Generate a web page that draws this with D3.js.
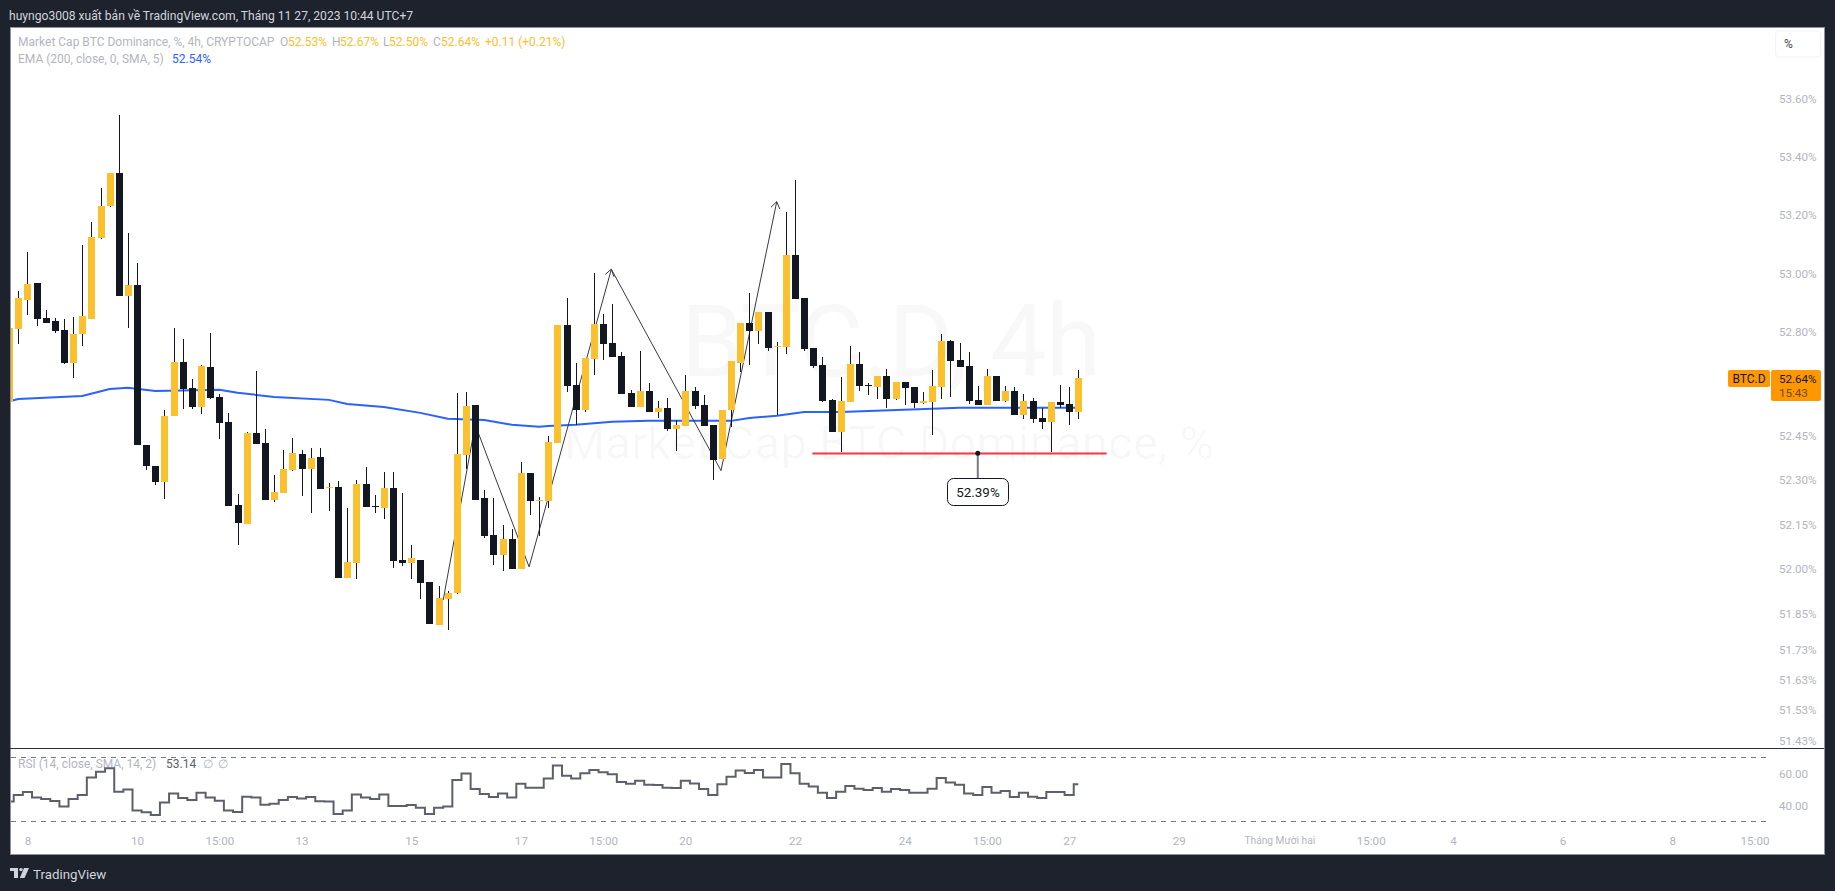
<!DOCTYPE html>
<html>
<head>
<meta charset="utf-8">
<title>BTC.D 4h</title>
<script src="https://cdn.jsdelivr.net/npm/d3@7"></script>
<style>
  html, body { margin: 0; padding: 0; background: #1e222d; overflow: hidden; }
  svg { display: block; }
  text { font-family: Roboto, sans-serif; }
</style>
</head>
<body>
<svg id="chart" width="1835" height="891"></svg>
<script>
// candles, 4h bars
const opens = [
  52.563,52.811,52.909,52.967,52.848,52.838,52.807,52.695,52.794,52.845,
  53.121,53.230,53.344,52.923,52.960,52.418,52.347,52.293,52.516,52.699,
  52.611,52.546,52.682,52.580,52.496,52.215,52.152,52.458,52.425,52.232,
  52.256,52.333,52.387,52.337,52.377,52.273,52.276,51.971,52.021,52.286,
  52.212,52.205,52.273,52.031,52.021,52.031,51.957,51.813,51.900,51.920,
  52.384,52.553,52.239,52.115,52.048,52.101,52.001,52.323,52.229,52.229,
  52.425,52.824,52.621,52.536,52.709,52.828,52.763,52.719,52.594,52.546,
  52.600,52.529,52.543,52.472,52.482,52.600,52.553,52.486,52.371,52.536,
  52.695,52.831,52.804,52.868,52.750,52.750,53.063,52.916,52.746,52.689,
  52.570,52.462,52.563,52.692,52.621,52.614,52.651,52.573,52.631,52.614,
  52.560,52.563,52.614,52.770,52.706,52.685,52.570,52.553,52.651,52.567,
  52.600,52.519,52.567,52.509,52.496,52.563,52.556,52.529
];
const highs = [
  52.814,52.940,53.073,52.967,52.875,52.848,52.845,52.851,53.097,53.176,
  53.292,53.344,53.543,53.138,53.036,52.418,52.347,52.536,52.814,52.777,
  52.641,52.689,52.797,52.590,52.526,52.252,52.462,52.668,52.472,52.317,
  52.401,52.442,52.401,52.408,52.408,52.289,52.296,52.205,52.300,52.344,
  52.249,52.327,52.327,52.256,52.081,52.031,51.957,51.943,51.927,52.594,
  52.597,52.553,52.266,52.239,52.148,52.135,52.360,52.323,52.242,52.448,
  52.824,52.916,52.695,52.712,53.001,52.862,52.895,52.733,52.604,52.736,
  52.628,52.567,52.577,52.502,52.655,52.614,52.587,52.486,52.536,52.702,
  52.831,52.933,52.868,52.868,52.767,53.210,53.320,52.916,52.746,52.716,
  52.573,52.648,52.753,52.733,52.628,52.651,52.675,52.631,52.631,52.614,
  52.597,52.672,52.794,52.773,52.763,52.733,52.617,52.675,52.651,52.617,
  52.614,52.590,52.577,52.543,52.563,52.621,52.614,52.672
];
const lows = [
  52.563,52.760,52.858,52.821,52.831,52.797,52.692,52.645,52.753,52.845,
  53.118,53.227,52.923,52.814,52.418,52.333,52.283,52.235,52.516,52.540,
  52.540,52.523,52.573,52.438,52.212,52.081,52.152,52.421,52.232,52.225,
  52.256,52.330,52.246,52.188,52.269,52.195,51.971,51.971,51.967,52.209,
  52.188,52.168,52.004,52.011,51.967,51.900,51.817,51.813,51.797,51.917,
  52.337,52.232,52.105,52.014,51.994,52.001,52.001,52.182,52.111,52.205,
  52.425,52.597,52.486,52.529,52.655,52.706,52.716,52.590,52.546,52.546,
  52.529,52.509,52.465,52.398,52.482,52.540,52.482,52.300,52.371,52.479,
  52.665,52.689,52.760,52.736,52.519,52.726,52.912,52.736,52.678,52.563,
  52.462,52.394,52.563,52.600,52.587,52.573,52.543,52.570,52.553,52.543,
  52.556,52.452,52.573,52.580,52.682,52.556,52.553,52.553,52.567,52.563,
  52.519,52.506,52.492,52.472,52.394,52.543,52.486,52.506
];
const closes = [
  52.814,52.916,52.964,52.845,52.831,52.804,52.695,52.794,52.855,53.124,
  53.230,53.344,52.923,52.960,52.418,52.347,52.293,52.516,52.699,52.607,
  52.546,52.685,52.577,52.492,52.212,52.155,52.458,52.421,52.232,52.259,
  52.337,52.391,52.337,52.374,52.269,52.276,51.971,52.024,52.286,52.209,
  52.209,52.273,52.028,52.021,52.038,51.954,51.817,51.903,51.920,52.387,
  52.550,52.232,52.111,52.048,52.101,52.001,52.323,52.229,52.232,52.428,
  52.824,52.617,52.536,52.712,52.828,52.760,52.716,52.590,52.546,52.600,
  52.529,52.543,52.472,52.486,52.600,52.550,52.482,52.367,52.536,52.702,
  52.831,52.804,52.868,52.746,52.753,53.063,52.912,52.743,52.685,52.567,
  52.462,52.567,52.692,52.617,52.617,52.651,52.573,52.631,52.611,52.560,
  52.567,52.617,52.770,52.702,52.682,52.567,52.553,52.651,52.567,52.600,
  52.519,52.567,52.506,52.496,52.563,52.553,52.529,52.645
];

// EMA 200, read at the bars where it bends
const emaBars = [0,1,8,11,13,16,23,25,29,35,37,41,45,48,52,55,58,59,62,66,70,78,79,81,84,87,91,101,104,117];
const emaVals = [52.565,52.573,52.583,52.607,52.611,52.600,52.604,52.594,52.580,52.570,52.556,52.546,52.526,52.506,52.502,52.486,52.479,52.482,52.486,52.496,52.499,52.499,52.499,52.509,52.516,52.529,52.529,52.540,52.543,52.543];

const rsiVals = [
  42.3,46.4,48.3,44.8,43.9,42.7,39.2,43.9,46.4,57.3,
  61.0,63.1,48.5,49.8,36.7,35.6,33.9,41.7,47.3,44.6,
  43.3,47.9,44.8,42.9,36.7,35.8,45.4,44.8,40.4,41.0,
  43.3,45.2,44.2,45.2,42.5,42.3,34.6,36.7,46.7,44.8,
  43.9,46.7,39.6,39.6,40.2,38.5,34.6,38.5,39.2,55.8,
  59.8,50.2,47.1,45.2,47.3,44.8,53.5,51.0,51.0,56.7,
  64.8,58.5,56.7,60.0,62.1,60.6,59.4,54.6,53.5,55.4,
  52.9,52.7,51.0,50.8,55.4,53.7,50.2,46.4,53.1,57.9,
  61.7,60.2,62.1,57.3,57.3,65.8,60.0,53.5,51.7,47.9,
  44.6,48.5,52.1,50.4,49.6,50.8,48.5,50.2,49.6,47.9,
  47.9,50.4,57.1,54.2,52.9,47.3,46.4,51.4,47.9,48.9,
  45.2,47.9,45.4,44.6,48.3,48.3,46.4,53.14
];

// zigzag drawn on the chart (bar index, price)
const zigzagBars = [47.5,51,56.9,65.9,77.9,84];
const zigzagVals = [51.897,52.486,52.008,53.014,52.331,53.245];
const supportBars = [87.9,120.1];
const supportVal = 52.39;
const calloutBar = 106;

const priceTicks = [53.60,53.40,53.20,53.00,52.80,52.45,52.30,52.15,52.00,51.85,51.73,51.63,51.53,51.43];
const rsiTicks = [60,40];
const rsiBands = [70,30];
const timeBars = [2,14,23,32,44,56,65,74,86,98,107,116,128,139,149,158,170,182,191];
const timeLabels = ["8","10","15:00","13","15","17","15:00","20","22","24","15:00","27","29","Tháng Mười hai","15:00","4","6","8","15:00"];

const DARK = "#131722", YELLOW = "#fbc02d", GREY = "#b2b5be", BLUE = "#2962ff", ORANGE = "#ff9800";
const FS = 11.6, LEGEND_FS = 12;

const svg = d3.select("#chart");
const x = d3.scaleLinear().domain([0, 117]).range([9.15, 1078.3]);
const y = d3.scaleLog().domain([51.43, 53.60]).range([740.4, 98.5]);
const rsiY = d3.scaleLinear().domain([70, 30]).range([757.3, 821.3]);

// frame
svg.append("rect").attr("x", 10.5).attr("y", 27.5).attr("width", 1814).attr("height", 827)
  .attr("fill", "#fff").attr("stroke", "#8f929c");
svg.append("defs").append("clipPath").attr("id", "plot").append("rect")
  .attr("x", 11).attr("y", 28).attr("width", 1813).attr("height", 720);

// header
svg.append("text").attr("x", 9).attr("y", 19.5).attr("fill", "#d1d4dc").attr("font-size", 12.1)
  .text("huyngo3008 xuất bản về TradingView.com, Tháng 11 27, 2023 10:44 UTC+7");

// watermark
const mark = svg.append("g").attr("fill", DARK).attr("fill-opacity", 0.032).attr("text-anchor", "middle");
mark.append("text").attr("x", 891).attr("y", 376).attr("font-size", 100)
  .attr("textLength", 420).text("BTC.D, 4h");
mark.append("text").attr("x", 889).attr("y", 459).attr("font-size", 47)
  .attr("textLength", 650).text("Market Cap BTC Dominance, %");

const plot = svg.append("g").attr("clip-path", "url(#plot)");

// EMA goes under the candles
plot.append("path")
  .attr("d", d3.line().x(d => x(d[0])).y(d => y(d[1]))(d3.zip(emaBars, emaVals)))
  .attr("fill", "none").attr("stroke", BLUE).attr("stroke-width", 2);

// zigzag with arrow heads
const zig = d3.zip(zigzagBars, zigzagVals);
plot.append("path")
  .attr("d", d3.line().x(d => x(d[0])).y(d => y(d[1]))(zig))
  .attr("fill", "none").attr("stroke", "#363a45").attr("stroke-width", 1);
[3, 5].forEach(k => {
  const a = zig[k - 1], b = zig[k];
  const tx = x(b[0]), ty = y(b[1]);
  const ang = Math.atan2(ty - y(a[1]), tx - x(a[0]));
  plot.append("path")
    .attr("d", [-0.6, 0.6].map(o =>
      `M${tx},${ty}L${tx - 8 * Math.cos(ang + o)},${ty - 8 * Math.sin(ang + o)}`).join(""))
    .attr("fill", "none").attr("stroke", "#363a45").attr("stroke-width", 1);
});

// support line and its callout
plot.append("line")
  .attr("x1", x(supportBars[0])).attr("x2", x(supportBars[1]))
  .attr("y1", Math.round(y(supportVal)) + 0.5).attr("y2", Math.round(y(supportVal)) + 0.5)
  .attr("stroke", "#f23645").attr("stroke-width", 2);

// candles
const bars = d3.range(opens.length).map(i => ({
  px: Math.round(x(i)), open: opens[i], high: highs[i], low: lows[i], close: closes[i]
}));
plot.append("g").selectAll("rect").data(bars).join("rect")
  .attr("x", d => d.px).attr("width", 1)
  .attr("y", d => Math.round(y(d.high)))
  .attr("height", d => Math.max(1, Math.round(y(d.low)) - Math.round(y(d.high))))
  .attr("fill", DARK);
plot.append("g").selectAll("rect").data(bars).join("rect")
  .attr("x", d => d.px - 3).attr("width", 7)
  .attr("y", d => Math.round(y(Math.max(d.open, d.close))))
  .attr("height", d => Math.max(1, Math.round(y(Math.min(d.open, d.close))) - Math.round(y(Math.max(d.open, d.close)))))
  .attr("fill", d => d.close >= d.open ? YELLOW : DARK);

// callout on top
const cx = x(calloutBar), cy = y(supportVal);
svg.append("line").attr("x1", cx).attr("x2", cx).attr("y1", cy).attr("y2", 478)
  .attr("stroke", "#787b86").attr("stroke-width", 2);
svg.append("circle").attr("cx", cx).attr("cy", cy).attr("r", 2.5).attr("fill", DARK);
svg.append("rect").attr("x", 947.5).attr("y", 478.5).attr("width", 61).attr("height", 27).attr("rx", 6)
  .attr("fill", "#fff").attr("stroke", DARK);
svg.append("text").attr("x", 978).attr("y", 497).attr("text-anchor", "middle")
  .attr("font-size", 13.4).attr("fill", DARK).text(supportVal.toFixed(2) + "%");

// legend
function legend(items, yPos) {
  items.forEach(([txt, lx, col]) => {
    svg.append("text").attr("x", lx).attr("y", yPos).attr("fill", col).attr("font-size", LEGEND_FS).text(txt);
  });
}
legend([
  ["Market Cap BTC Dominance, %, 4h, CRYPTOCAP", 18, GREY],
  ["O", 280, GREY], ["52.53%", 288, YELLOW],
  ["H", 332, GREY], ["52.67%", 340, YELLOW],
  ["L", 383, GREY], ["52.50%", 389, YELLOW],
  ["C", 433, GREY], ["52.64%", 441, YELLOW],
  ["+0.11 (+0.21%)", 485, YELLOW]
], 46);
legend([["EMA (200, close, 0, SMA, 5)", 18, GREY], ["52.54%", 172, BLUE]], 63);
legend([
  ["RSI (14, close, SMA, 14, 2)", 18, GREY], ["53.14", 166, "#5d606b"],
  ["∅", 203, GREY], ["∅", 218, GREY]
], 768);

// % button
svg.append("rect").attr("x", 1775.5).attr("y", 31).attr("width", 45).attr("height", 26).attr("rx", 4)
  .attr("fill", "#fff").attr("stroke", "#f0f3fa").attr("stroke-width", 1.2);
svg.append("text").attr("x", 1784).attr("y", 48).attr("font-size", 12).attr("fill", "#434651").text("%");

// pane divider
svg.append("line").attr("x1", 10).attr("x2", 1824).attr("y1", 748.5).attr("y2", 748.5).attr("stroke", "#2a2e39");

// RSI pane
svg.append("g").selectAll("line").data(rsiBands).join("line")
  .attr("x1", 11).attr("x2", 1771)
  .attr("y1", d => Math.round(rsiY(d)) + 0.5).attr("y2", d => Math.round(rsiY(d)) + 0.5)
  .attr("stroke", "#787b86").attr("stroke-dasharray", "5 5");
svg.append("path")
  .attr("clip-path", "url(#rsiClip)")
  .attr("d", d3.line().curve(d3.curveStep).x((d, i) => x(i)).y(d => rsiY(d))(rsiVals))
  .attr("fill", "none").attr("stroke", "#5d606b").attr("stroke-width", 2);
svg.select("defs").append("clipPath").attr("id", "rsiClip").append("rect")
  .attr("x", 11).attr("y", 749).attr("width", 1813).attr("height", 80);

// axes
function styleAxis(g) {
  g.select(".domain").remove();
  g.selectAll("text").attr("fill", GREY).attr("font-size", FS).attr("font-family", "Roboto, sans-serif");
}
svg.append("g").attr("transform", "translate(1779,0)")
  .call(d3.axisRight(y).tickValues(priceTicks).tickSize(0).tickPadding(0).tickFormat(d => d.toFixed(2) + "%"))
  .call(styleAxis);
svg.append("g").attr("transform", "translate(1779,0)")
  .call(d3.axisRight(rsiY).tickValues(rsiTicks).tickSize(0).tickPadding(0).tickFormat(d3.format(".2f")))
  .call(styleAxis);
const timeAxis = svg.append("g").attr("transform", "translate(0,837)")
  .call(d3.axisBottom(x).tickValues(timeBars).tickSize(0).tickPadding(0).tickFormat((d, i) => timeLabels[i]))
  .call(styleAxis);
// the month name is narrower in the original
timeAxis.selectAll("text").filter(d => d === 139).attr("font-size", 10.2);

// price labels
svg.append("rect").attr("x", 1728).attr("y", 370).attr("width", 42).attr("height", 17).attr("rx", 2).attr("fill", ORANGE);
svg.append("rect").attr("x", 1771).attr("y", 370).attr("width", 50).attr("height", 31).attr("rx", 2).attr("fill", ORANGE);
svg.append("text").attr("x", 1749).attr("y", 383).attr("text-anchor", "middle").attr("font-size", 12).attr("fill", DARK).text("BTC.D");
svg.append("text").attr("x", 1779).attr("y", 383).attr("font-size", FS).attr("fill", DARK).text("52.64%");
svg.append("text").attr("x", 1779).attr("y", 397).attr("font-size", FS).attr("fill", "#6b4b12").text("15:43");

// footer logo
const logo = svg.append("g").attr("fill", "#d1d4dc");
logo.append("path").attr("d", "M10 868h8v10h-4v-7h-4z");
logo.append("circle").attr("cx", 21).attr("cy", 869.6).attr("r", 1.7);
logo.append("path").attr("d", "M24 868h5l-4.5 10h-4.7z");
svg.append("text").attr("x", 33).attr("y", 879).attr("font-size", 13.3).attr("fill", "#d1d4dc").text("TradingView");
</script>
</body>
</html>
